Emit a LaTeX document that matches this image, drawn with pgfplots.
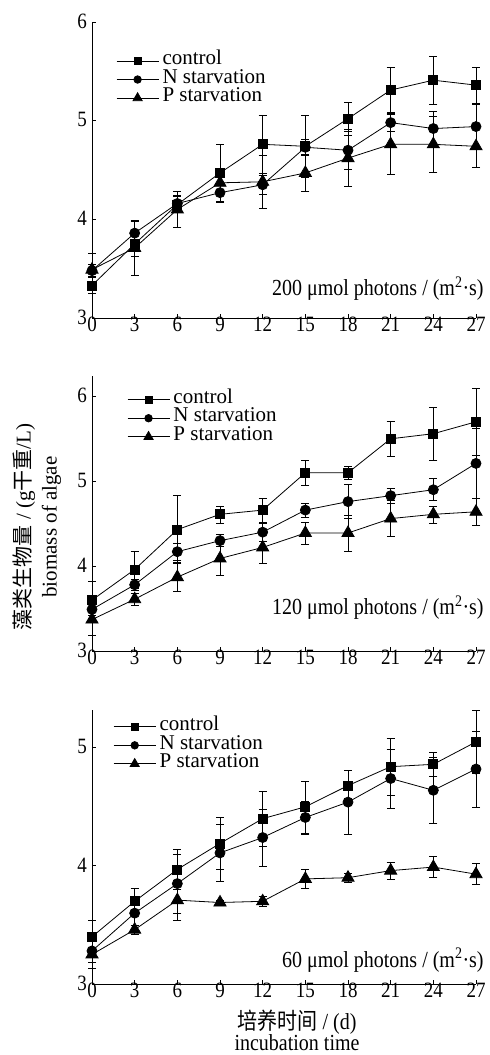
\documentclass[border=0pt]{standalone}
\usepackage{fontspec}
\setmainfont{Liberation Serif}
\newfontfamily\cjk{Noto Sans CJK SC}
\usepackage{graphicx}
\usepackage{pgfplots}
\usepackage{pgfplotstable}
\pgfplotsset{compat=1.18}
\newcommand{\vs}[1]{\scalebox{1}[1.15]{#1}}

% panel 1: 200 umol
\pgfplotstableread{
x y e
0 3.33 0.08
3 3.75 0.12
6 4.15 0.08
9 4.47 0.29
12 4.76 0.29
15 4.74 0.31
18 5.02 0.17
21 5.31 0.23
24 5.41 0.24
27 5.36 0.18
}\Aa
\pgfplotstableread{
x y e
0 3.48 0.06
3 3.86 0.12
6 4.16 0.08
9 4.27 0.10
12 4.35 0.10
15 4.73 0.08
18 4.70 0.19
21 4.98 0.09
24 4.92 0.17
27 4.94 0.23
}\Ab
\pgfplotstableread{
x y e
0 3.49 0.17
3 3.71 0.28
6 4.10 0.18
9 4.37 0.08
12 4.38 0.27
15 4.47 0.19
18 4.62 0.29
21 4.76 0.30
24 4.76 0.28
27 4.74 0.21
}\Ac
% panel 2: 120 umol
\pgfplotstableread{
x y e
0 3.60 0.22
3 3.96 0.22
6 4.43 0.40
9 4.61 0.10
12 4.66 0.14
15 5.10 0.15
18 5.10 0.08
21 5.50 0.21
24 5.56 0.31
27 5.70 0.39
}\Ba
\pgfplotstableread{
x y e
0 3.49 0.07
3 3.78 0.07
6 4.17 0.10
9 4.30 0.07
12 4.40 0.11
15 4.66 0.08
18 4.76 0.20
21 4.83 0.09
24 4.90 0.13
27 5.21 0.41
}\Bb
\pgfplotstableread{
x y e
0 3.37 0.18
3 3.61 0.07
6 3.87 0.17
9 4.09 0.20
12 4.22 0.19
15 4.39 0.13
18 4.39 0.21
21 4.56 0.21
24 4.61 0.10
27 4.64 0.16
}\Bc
% panel 3: 60 umol
\pgfplotstableread{
x y e
0 3.40 0.14
3 3.70 0.11
6 3.97 0.17
9 4.19 0.22
12 4.40 0.23
15 4.50 0.22
18 4.68 0.13
21 4.84 0.24
24 4.86 0.10
27 5.05 0.27
}\Ca
\pgfplotstableread{
x y e
0 3.28 0.10
3 3.60 0.10
6 3.85 0.25
9 4.11 0.24
12 4.24 0.24
15 4.41 0.14
18 4.54 0.27
21 4.74 0.25
24 4.64 0.28
27 4.82 0.32
}\Cb
\pgfplotstableread{
x y e
0 3.25 0.12
3 3.46 0.04
6 3.71 0.17
9 3.69 0.02
12 3.70 0.04
15 3.89 0.08
18 3.90 0.04
21 3.96 0.07
24 3.99 0.09
27 3.93 0.09
}\Cc

\pgfplotsset{
  panel/.style={
    scale only axis, width=384bp,
    axis lines=left, axis line style={-, line width=0.8bp},
    xmin=0, xmax=27, xtick={0,3,...,27},
    tick align=inside, major tick length=4bp,
    tick style={line width=0.8bp, black},
    ticklabel style={font=\fontsize{19bp}{19bp}\selectfont},
    xticklabel={\vs{\pgfmathprintnumber{\tick}}},
    yticklabel={\vs{\pgfmathprintnumber{\tick}}},
    xticklabel style={yshift=2bp, inner sep=1bp},
    yticklabel style={inner sep=2bp, xshift=-3bp, yshift=1bp},
    /pgf/number format/assume math mode=true,
    legend style={draw=none, fill=none, font=\fontsize{21bp}{21bp}\selectfont,
      anchor=north west, inner sep=0pt, row sep=0pt, column sep=2bp,
      nodes={inner sep=1.5bp, text height=11.5bp, text depth=4bp}},
    legend cell align=left,
    legend image code/.code={\draw[##1, every mark/.append style={scale=0.75}, mark repeat=2, mark phase=2] plot coordinates {(0bp,0bp) (21bp,0bp) (42bp,0bp)};},
    clip=false,
  },
  eb/.style={black, line width=0.8bp,
      error bars/y dir=both, error bars/y explicit,
      error bars/error bar style={line width=0.6bp, solid},
      error bars/error mark options={rotate=90, mark size=4bp, line width=0.6bp}},
  sq/.style={eb, mark=square*, mark size=4.5bp, mark options={solid}},
  ci/.style={eb, mark=*, mark size=5bp, mark options={solid}},
  tr/.style={eb, mark=triangle*, mark size=7bp, mark options={solid}},
}

\begin{document}
\begin{tikzpicture}[x=1bp,y=1bp]
\path[use as bounding box] (0,0) rectangle (490,1055);

% ---- panel 1 ----
\begin{axis}[panel, at={(92bp,737bp)}, anchor=south west, height=296bp,
  ymin=3, ymax=6, ytick={3,4,5,6},
  legend style={at={(0.0625,0.90)}}]
\addplot[sq] table[x=x,y=y,y error=e] {\Aa};
\addplot[ci] table[x=x,y=y,y error=e] {\Ab};
\addplot[tr] table[x=x,y=y,y error=e] {\Ac};
\legend{control, N starvation, P starvation}
\node[anchor=base east, font=\fontsize{20bp}{20bp}\selectfont] at (rel axis cs:1.029,0.075) {\vs{200 μmol photons / (m\textsuperscript{2}·s)}};
\end{axis}

% ---- panel 2 ----
\begin{axis}[panel, at={(92bp,404bp)}, anchor=south west, height=275bp,
  ymin=3, ymax=6.24, ytick={3,4,5,6},
  legend style={at={(0.091,0.948)}}]
\addplot[sq] table[x=x,y=y,y error=e] {\Ba};
\addplot[ci] table[x=x,y=y,y error=e] {\Bb};
\addplot[tr] table[x=x,y=y,y error=e] {\Bc};
\legend{control, N starvation, P starvation}
\node[anchor=base east, font=\fontsize{20bp}{20bp}\selectfont] at (rel axis cs:1.029,0.132) {\vs{120 μmol photons / (m\textsuperscript{2}·s)}};
\end{axis}

% ---- panel 3 ----
\begin{axis}[panel, at={(92bp,71bp)}, anchor=south west, height=274bp,
  ymin=3, ymax=5.32, ytick={3,4,5},
  legend style={at={(0.055,0.973)}}]
\addplot[sq] table[x=x,y=y,y error=e] {\Ca};
\addplot[ci] table[x=x,y=y,y error=e] {\Cb};
\addplot[tr] table[x=x,y=y,y error=e] {\Cc};
\legend{control, N starvation, P starvation}
\node[anchor=base east, font=\fontsize{20bp}{20bp}\selectfont] at (rel axis cs:1.029,0.060) {\vs{60 μmol photons / (m\textsuperscript{2}·s)}};
\end{axis}

% axis titles
\node[rotate=90, align=center, font=\fontsize{21bp}{26bp}\selectfont] at (37bp,528bp)
  {{\cjk 藻类生物量} / (g{\cjk 干重}/L)\\biomass of algae};
\node[align=center, font=\fontsize{20bp}{21bp}\selectfont] at (297bp,25bp)
  {\vs{{\cjk 培养时间} / (d)}\\\vs{incubation time}};
\end{tikzpicture}
\end{document}
